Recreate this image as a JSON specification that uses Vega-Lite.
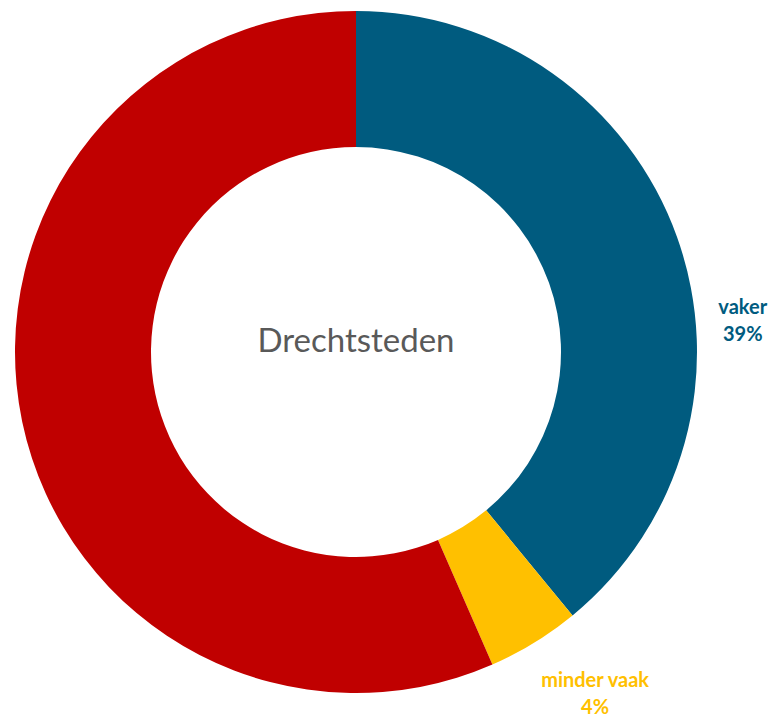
{
  "$schema": "https://vega.github.io/schema/vega-lite/v6.json",
  "width": 712,
  "height": 704,
  "autosize": {"type": "none"},
  "padding": {"left": 0, "top": 0, "right": 61, "bottom": 14},
  "background": "white",
  "config": {"view": {"stroke": null}, "font": "Lato"},
  "data": {
    "values": [
      {"cat": "vaker", "value": 39.05, "pct": "39%", "ord": 1},
      {"cat": "minder vaak", "value": 4.4, "pct": "4%", "ord": 2},
      {"cat": "even vaak", "value": 56.55, "pct": "57%", "ord": 3}
    ]
  },
  "encoding": {
    "color": {
      "field": "cat",
      "type": "nominal",
      "scale": {"domain": ["vaker", "minder vaak", "even vaak"], "range": ["#005b7f", "#ffc000", "#c00000"]},
      "legend": null
    }
  },
  "layer": [
    {
      "mark": {"type": "arc", "outerRadius": 341, "innerRadius": 205},
      "encoding": {
        "theta": {"field": "value", "type": "quantitative", "stack": true, "scale": {"domain": [0, 100]}},
        "order": {"field": "ord", "type": "quantitative"}
      }
    },
    {
      "transform": [
        {"stack": "value", "groupby": [], "sort": [{"field": "ord"}], "as": ["v0", "v1"]},
        {"calculate": "(datum.v0 + datum.v1) / 2", "as": "mid"}
      ],
      "layer": [
        {
          "transform": [{"filter": "datum.cat == 'vaker'"}],
          "layer": [
            {
              "mark": {"type": "text", "radius": 380, "dx": 29, "dy": 84, "fontSize": 20, "fontWeight": "bold", "align": "center", "baseline": "middle"},
              "encoding": {"text": {"field": "cat"}}
            },
            {
              "mark": {"type": "text", "radius": 380, "dx": 29, "dy": 111, "fontSize": 20, "fontWeight": "bold", "align": "center", "baseline": "middle"},
              "encoding": {"text": {"field": "pct"}}
            }
          ]
        },
        {
          "transform": [{"filter": "datum.cat == 'minder vaak'"}],
          "layer": [
            {
              "mark": {"type": "text", "radius": 360, "dx": 51, "dy": 22, "fontSize": 20, "fontWeight": "bold", "align": "center", "baseline": "middle"},
              "encoding": {"text": {"field": "cat"}}
            },
            {
              "mark": {"type": "text", "radius": 360, "dx": 51, "dy": 49, "fontSize": 20, "fontWeight": "bold", "align": "center", "baseline": "middle"},
              "encoding": {"text": {"field": "pct"}}
            }
          ]
        }
      ],
      "encoding": {
        "theta": {"field": "mid", "type": "quantitative", "stack": null, "scale": {"domain": [0, 100]}}
      }
    },
    {
      "data": {"values": [{"title": "Drechtsteden"}]},
      "mark": {"type": "text", "fontSize": 33, "color": "#595959", "align": "center", "baseline": "middle", "dy": -10},
      "encoding": {"text": {"field": "title"}, "color": null}
    }
  ]
}
